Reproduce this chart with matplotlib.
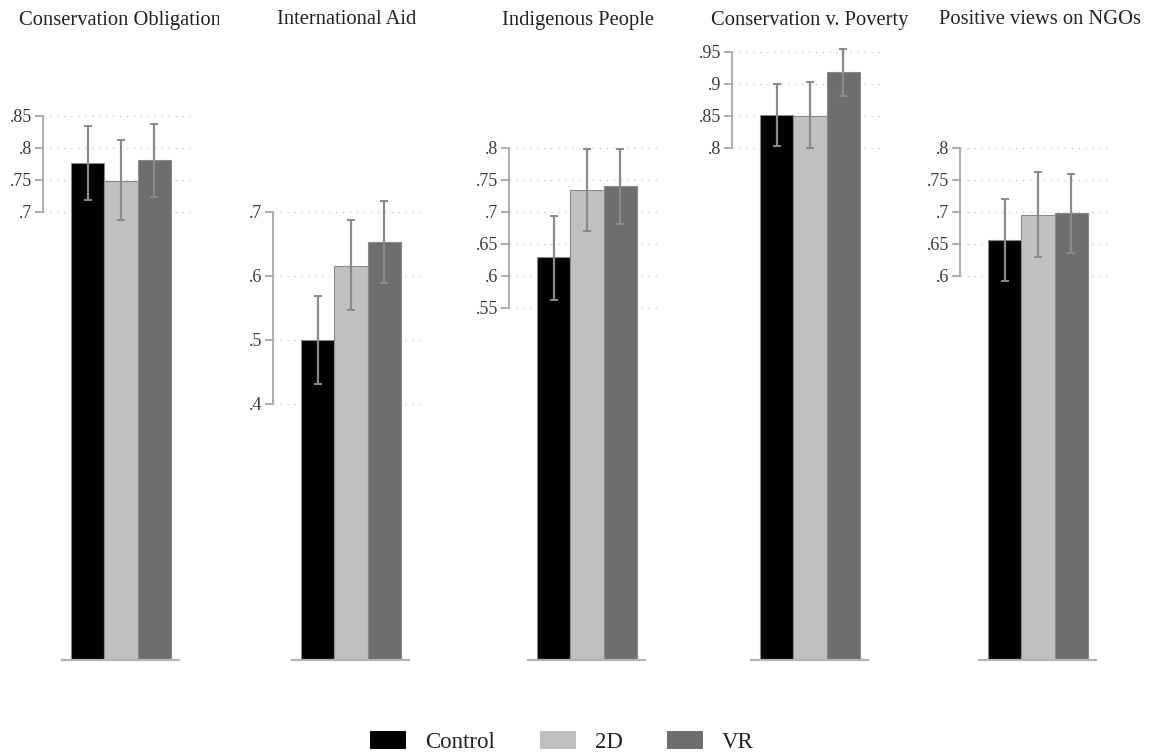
import matplotlib
matplotlib.use("Agg")
import matplotlib.pyplot as plt
from matplotlib.transforms import Bbox
from matplotlib.patches import Patch

# ---------------- data ----------------
titles = ["Conservation Obligation", "International Aid", "Indigenous People",
          "Conservation v. Poverty", "Positive views on NGOs"]
groups = ["Control", "2D", "VR"]
means = [
    [0.776, 0.749, 0.781],
    [0.500, 0.616, 0.653],
    [0.629, 0.734, 0.740],
    [0.851, 0.850, 0.918],
    [0.657, 0.696, 0.698],
]
ci_low = [
    [0.718, 0.687, 0.724],
    [0.431, 0.547, 0.589],
    [0.563, 0.671, 0.681],
    [0.803, 0.800, 0.881],
    [0.592, 0.630, 0.636],
]
ci_high = [
    [0.834, 0.813, 0.837],
    [0.568, 0.688, 0.717],
    [0.694, 0.798, 0.798],
    [0.900, 0.903, 0.954],
    [0.721, 0.762, 0.759],
]
yticks = [
    [0.70, 0.75, 0.80, 0.85],
    [0.4, 0.5, 0.6, 0.7],
    [0.55, 0.60, 0.65, 0.70, 0.75, 0.80],
    [0.80, 0.85, 0.90, 0.95],
    [0.60, 0.65, 0.70, 0.75, 0.80],
]

# ---------------- style ----------------
colors = ["#000000", "#c0c0c0", "#6e6e6e"]
W, H = 1156, 754
FONT = "Liberation Serif"
plt.rcParams["font.family"] = [FONT, "DejaVu Serif"]

fig = plt.figure(figsize=(W / 100, H / 100), dpi=100)

spine_x = [43, 273, 509, 732, 960]   # left edge of each panel (px)
cell_w = W / 5.0
ax_w = 152
bottom_px, top_px = 660, 20
px_per_unit = 100 / 3.0
bar_off = 28

def fmt(v):
    s = ("%.2f" % v).rstrip("0").rstrip(".")
    return s[1:] if s.startswith("0") else s

for i in range(5):
    left = spine_x[i] / W
    bottom = (H - bottom_px) / H
    height = (bottom_px - top_px) / H
    ax = fig.add_axes([left, bottom, ax_w / W, height])
    x0 = -0.5 - bar_off / px_per_unit
    ax.set_xlim(x0, x0 + ax_w / px_per_unit)
    ax.set_ylim(0, 1.0)
    xs = [0, 1, 2]
    err = [[m - l for m, l in zip(means[i], ci_low[i])],
           [h - m for m, h in zip(means[i], ci_high[i])]]
    ax.bar(xs, means[i], width=1.0, color=colors, edgecolor="#8a8a8a",
           linewidth=0.8, zorder=2)
    ax.errorbar(xs, means[i], yerr=err, fmt="none", ecolor="#8a8a8a",
                elinewidth=1.6, capsize=2.6, capthick=1.4, zorder=3)
    for t in yticks[i]:
        ax.axhline(t, color="#c8c8c8", linestyle=(0, (1, 4)), linewidth=1.0,
                   zorder=1)
    ax.set_yticks(yticks[i])
    ax.set_yticklabels([fmt(t) for t in yticks[i]])
    ax.set_xticks([])
    ax.tick_params(axis="y", direction="out", length=5.8, width=1.2,
                   color="#a0a0a0", labelsize=13, labelcolor="#3a3a3a", pad=2)
    for s in ["top", "right"]:
        ax.spines[s].set_visible(False)
    ax.spines["left"].set_color("#a8a8a8")
    ax.spines["left"].set_linewidth(1.3)
    ax.spines["left"].set_bounds(yticks[i][0], yticks[i][-1])
    ax.spines["bottom"].set_color("#b4b4b4")
    ax.spines["bottom"].set_linewidth(1.6)
    ax.spines["bottom"].set_bounds(x0 + 19 / px_per_unit, x0 + 136 / px_per_unit)
    ax.patch.set_visible(False)

    if i == 0:
        t = fig.text(19 / W, 1 - 20 / H, titles[i], ha="left", va="center",
                     fontsize=14.8, color="#222222")
        t.set_clip_box(Bbox.from_extents(0, 0, 219, H))
        t.set_clip_on(True)
    else:
        fig.text((i + 0.5) * cell_w / W, 1 - 20 / H, titles[i], ha="center",
                 va="center", fontsize=14.8, color="#222222")

handles = [Patch(facecolor=c, edgecolor="none") for c in colors]
fig.legend(handles, groups, loc="center", bbox_to_anchor=(562 / W, 1 - 742 / H),
           ncol=3, frameon=False, fontsize=16.5, handlelength=1.57,
           handleheight=0.83, handletextpad=0.83, columnspacing=1.95,
           labelcolor="#222222")

fig.savefig("out.png", dpi=100, facecolor="white")
